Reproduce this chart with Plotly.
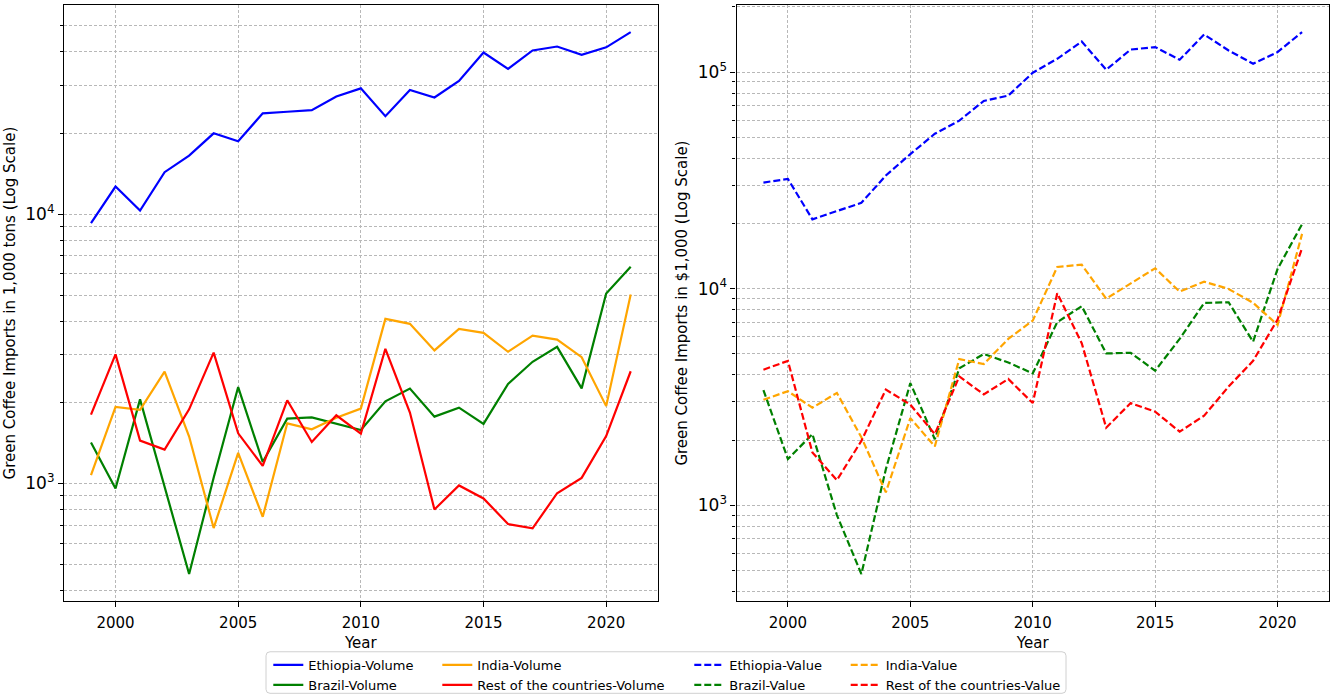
import math
import plotly.graph_objects as go
from plotly.subplots import make_subplots

W, H = 1334, 700

years = list(range(1999, 2022))

# volume, 1,000 tons
eth_vol = [9260, 12660, 10310, 14310, 16480, 19950, 18640, 23660, 23990, 24320, 27340, 29300,
           23100, 28900, 27100, 31200, 39800, 34600, 40500, 41900, 39000, 41600, 47400]
bra_vol = [1419, 958, 2052, 980, 461, 1050, 2280, 1202, 1741, 1760, 1671, 1580,
           2018, 2250, 1771, 1911, 1664, 2343, 2830, 3215, 2254, 5070, 6370]
ind_vol = [1073, 1923, 1875, 2600, 1493, 683, 1298, 752, 1672, 1588, 1755, 1896,
           4083, 3915, 3119, 3750, 3625, 3083, 3541, 3422, 2944, 1937, 5032]
rest_vol = [1801, 3014, 1443, 1336, 1884, 3060, 1535, 1162, 2036, 1426, 1791, 1531,
            3162, 1833, 801, 983, 880, 707, 681, 920, 1049, 1500, 2610]

# value, $1,000
eth_val = [30900, 32100, 20900, 22800, 24900, 33300, 41800, 51900, 59700, 73600, 77900, 99300,
           115200, 138400, 102500, 127100, 130500, 114000, 149200, 125800, 109300, 123700, 153000]
bra_val = [3402, 1633, 2130, 900, 481, 1466, 3664, 2017, 4286, 4989, 4560, 4060,
           7000, 8300, 5020, 5055, 4180, 5860, 8590, 8650, 5690, 12330, 19860]
ind_val = [3070, 3360, 2820, 3300, 2060, 1146, 2523, 1870, 4730, 4487, 5860, 7120,
           12590, 12900, 8990, 10590, 12420, 9690, 10770, 9970, 8600, 6800, 17900]
rest_val = [4225, 4640, 1752, 1304, 1982, 3419, 2913, 2130, 3933, 3249, 3826, 2962,
            9520, 5600, 2280, 2962, 2703, 2185, 2590, 3530, 4640, 7200, 15400]

FONT = "DejaVu Sans"
GRID = "#b8b8b8"


# positions are measured in page pixels
def px(x):
    return x / W


def py(y):
    return 1 - y / H


fig = make_subplots(rows=1, cols=2)

vol_series = [
    ("Ethiopia-Volume", eth_vol, "#0000ff", "legend"),
    ("Brazil-Volume", bra_vol, "#008000", "legend"),
    ("India-Volume", ind_vol, "#ffa500", "legend2"),
    ("Rest of the countries-Volume", rest_vol, "#ff0000", "legend2"),
]
val_series = [
    ("Ethiopia-Value", eth_val, "#0000ff", "legend3"),
    ("Brazil-Value", bra_val, "#008000", "legend3"),
    ("India-Value", ind_val, "#ffa500", "legend4"),
    ("Rest of the countries-Value", rest_val, "#ff0000", "legend4"),
]

for name, vals, color, leg in vol_series:
    fig.add_trace(go.Scatter(x=years, y=vals, name=name, mode="lines", legend=leg,
                             line=dict(color=color, width=2.2)), row=1, col=1)
for name, vals, color, leg in val_series:
    fig.add_trace(go.Scatter(x=years, y=vals, name=name, mode="lines", legend=leg,
                             line=dict(color=color, width=2.2, dash="7px,3px")), row=1, col=2)


def log_range(series):
    lo = math.log10(min(min(s) for s in series))
    hi = math.log10(max(max(s) for s in series))
    pad = 0.05 * (hi - lo)
    return [lo - pad, hi + pad]


minor_vals = [m * 10 ** k for k in range(2, 6) for m in range(2, 10)]

common_x = dict(range=[1997.9, 2022.1], tickvals=[2000, 2005, 2010, 2015, 2020],
                showline=True, linecolor="black", linewidth=1.2, mirror=True,
                ticks="outside", ticklen=5, tickcolor="black", ticklabelstandoff=3,
                showgrid=True, gridcolor=GRID, griddash="3px,2px", gridwidth=1,
                tickfont=dict(family=FONT, size=15, color="black"),
                title=dict(text="Year", font=dict(family=FONT, size=15, color="black"), standoff=6),
                automargin=False, zeroline=False)

common_y = dict(type="log", tickvals=[1e3, 1e4, 1e5],
                ticktext=["10<sup>3</sup>", "10<sup>4</sup>", "10<sup>5</sup>"],
                showline=True, linecolor="black", linewidth=1.2, mirror=True,
                ticks="outside", ticklen=5, tickcolor="black",
                showgrid=True, gridcolor=GRID, griddash="3px,2px", gridwidth=1,
                minor=dict(tickvals=minor_vals, ticks="outside", ticklen=3, tickcolor="black",
                           showgrid=True, gridcolor=GRID, griddash="3px,2px", gridwidth=1),
                tickfont=dict(family=FONT, size=17, color="black"),
                automargin=False, zeroline=False)

fig.update_xaxes(domain=[px(64), px(657.7)], **common_x, row=1, col=1)
fig.update_xaxes(domain=[px(736.5), px(1329)], **common_x, row=1, col=2)
fig.update_yaxes(domain=[py(602), py(5)], **common_y,
                 range=log_range([eth_vol, bra_vol, ind_vol, rest_vol]),
                 title=dict(text="Green Coffee Imports in 1,000 tons (Log Scale)",
                            font=dict(family=FONT, size=15, color="black"), standoff=6),
                 row=1, col=1)
fig.update_yaxes(domain=[py(602), py(5)], **common_y,
                 range=log_range([eth_val, bra_val, ind_val, rest_val]),
                 title=dict(text="Green Coffee Imports in $1,000 (Log Scale)",
                            font=dict(family=FONT, size=15, color="black"), standoff=6),
                 row=1, col=2)

# legend frame (rounded box), entries split in four column legends
x0, x1, y0, y1 = px(266), px(1066), py(694.3), py(652.7)
rx, ry = 4 / W, 4 / H
frame = (f"M {x0 + rx},{y1} L {x1 - rx},{y1} Q {x1},{y1} {x1},{y1 - ry} "
         f"L {x1},{y0 + ry} Q {x1},{y0} {x1 - rx},{y0} L {x0 + rx},{y0} "
         f"Q {x0},{y0} {x0},{y0 + ry} L {x0},{y1 - ry} Q {x0},{y1} {x0 + rx},{y1} Z")
fig.add_shape(type="path", path=frame, xref="paper", yref="paper",
              line=dict(color="#d0d0d0", width=1), fillcolor="rgba(255,255,255,0.8)", layer="below")

legend_style = dict(orientation="v", xanchor="left", yanchor="top", y=py(650.8),
                    bgcolor="rgba(0,0,0,0)", borderwidth=0, tracegroupgap=0,
                    font=dict(family=FONT, size=13, color="black"))
text_x = [308.3, 477.3, 729.3, 885.7]

fig.update_layout(
    width=W, height=H,
    margin=dict(l=0, r=0, t=0, b=0),
    paper_bgcolor="white", plot_bgcolor="white",
    font=dict(family=FONT, size=13, color="black"),
    showlegend=True,
    legend=dict(x=px(text_x[0] - 40), **legend_style),
    legend2=dict(x=px(text_x[1] - 40), **legend_style),
    legend3=dict(x=px(text_x[2] - 40), **legend_style),
    legend4=dict(x=px(text_x[3] - 40), **legend_style),
)

# drop the page's default body margin so the figure sits at the window's corner
fig.write_html("out.html", config={"displayModeBar": False},
               post_script="document.body.style.margin = '0';")
